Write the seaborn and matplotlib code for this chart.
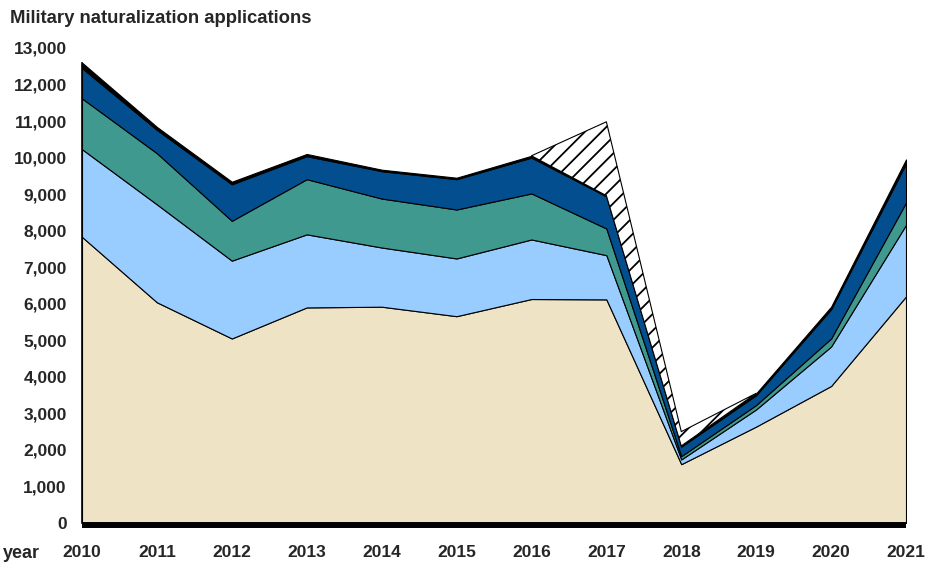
import numpy as np
import matplotlib
matplotlib.use("Agg")
import matplotlib.pyplot as plt
import seaborn as sns

# values (applications per layer, stacked)
years    = [2010, 2011, 2012, 2013, 2014, 2015, 2016, 2017, 2018, 2019, 2020, 2021]
beige    = [7830, 6040, 5050, 5900, 5920, 5660, 6130, 6120, 1610, 2640, 3750, 6200]
lt_blue  = [2400, 2680, 2130, 2000, 1620, 1580, 1630, 1210,  130,  470, 1080, 1960]
teal     = [1390, 1400, 1090, 1510, 1340, 1340, 1260,  730,   90,  120,  220,  610]
dk_blue  = [ 830,  640, 1000,  630,  750,  830,  980,  880,  260,  270,  800, 1070]
other    = [ 150,   80,   70,   60,   40,   40,   50,   20,   20,   50,   70,  110]
# hatched extra (only 2016-2019)
hatch_years = [2016, 2017, 2018, 2019]
hatch_extra = [0, 2020, 390, 0]

y_ticks = list(range(0, 13001, 1000))

COLORS = ["#EEE3C5", "#99CCFF", "#40998F", "#034E8E", "#000000"]

sns.set_theme(style="white")
plt.rcParams["font.family"] = ["Liberation Sans", "DejaVu Sans"]
plt.rcParams["font.weight"] = "bold"
plt.rcParams["hatch.linewidth"] = 1.3

fig = plt.figure(figsize=(9.26, 5.63), dpi=100)
ax = fig.add_axes([82 / 926, 1 - 523 / 563, (906 - 82) / 926, (523 - 48) / 563])

layers = np.array([beige, lt_blue, teal, dk_blue, other])
ax.stackplot(years, layers, colors=COLORS, edgecolor="black", linewidth=0.8)

# hatched band on top of the stack
top = layers.sum(axis=0)
idx = [years.index(y) for y in hatch_years]
base = top[idx]
ax.fill_between(hatch_years, base, base + np.array(hatch_extra),
                facecolor="white", edgecolor="black", hatch="//", linewidth=0.8)

ax.set_xlim(years[0], years[-1])
ax.set_ylim(0, 13000)
ax.set_xticks(years)
ax.set_yticks(y_ticks)
ax.set_yticklabels([f"{v:,}" for v in y_ticks])
ax.tick_params(axis="both", length=0, labelsize=12.5)
ax.tick_params(axis="y", pad=11)
ax.tick_params(axis="x", pad=14)

for s in ["top", "right"]:
    ax.spines[s].set_visible(False)
ax.spines["left"].set_color("black")
ax.spines["left"].set_linewidth(1.2)
ax.spines["left"].set_bounds(0, top[0])
ax.spines["bottom"].set_color("black")
ax.spines["bottom"].set_linewidth(4.3)
ax.spines["bottom"].set_position(("outward", 1.5))
ax.spines["bottom"].set_capstyle("butt")
ax.set_xlabel("")
ax.set_ylabel("")

fig.text(10 / 926, 1 - 23.3 / 563, "Military naturalization applications",
         ha="left", va="baseline", fontsize=13.3, fontweight="bold")
fig.text(3 / 926, 1 - 558 / 563, "year", ha="left", va="baseline",
         fontsize=13, fontweight="bold")

fig.savefig("out.png", dpi=100)
